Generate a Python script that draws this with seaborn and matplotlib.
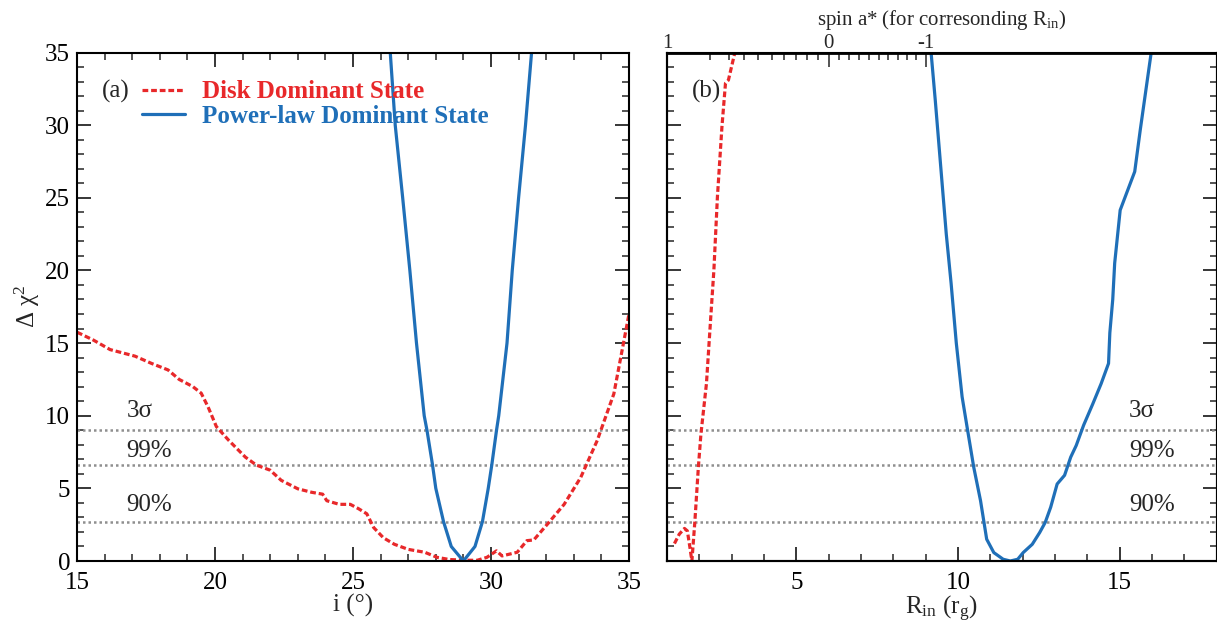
import numpy as np
import matplotlib
matplotlib.use("Agg")
import matplotlib.pyplot as plt
import seaborn as sns

# Delta chi^2 scans
# (a) inclination scan
disk_incl = [15.0, 15.6, 16.2, 17.1, 17.7, 18.3, 18.7, 19.2, 19.5, 19.75, 20.05, 20.5,
             21.1, 21.5, 22.0, 22.4, 23.0, 23.5, 23.9, 24.05, 24.5, 24.9, 25.2, 25.5,
             25.75, 26.1, 26.5, 27.0, 27.6, 28.05, 28.5, 29.1, 29.5, 29.85, 30.2, 30.4,
             30.95, 31.3, 31.55, 32.05, 32.65, 33.25, 33.85, 34.45, 35.0]
disk_incl_chi = [15.75, 15.2, 14.55, 14.1, 13.6, 13.15, 12.5, 12.0, 11.55, 10.6, 9.25, 8.3,
                 7.15, 6.6, 6.25, 5.55, 4.97, 4.73, 4.6, 4.15, 3.9, 3.9, 3.6, 3.25,
                 2.3, 1.6, 1.15, 0.8, 0.6, 0.25, 0.1, 0.05, 0.05, 0.25, 0.7, 0.35,
                 0.6, 1.4, 1.45, 2.55, 3.9, 5.75, 8.3, 11.5, 17.0]
pl_incl = [26.35, 26.53, 26.8, 27.06, 27.3, 27.58, 27.68, 27.88, 28.0, 28.28, 28.56, 29.0,
           29.42, 29.69, 29.9, 30.03, 30.2, 30.28, 30.58, 30.77, 31.0, 31.25, 31.47]
pl_incl_chi = [35, 30, 25, 20, 15, 10, 9, 6.63, 5, 2.71, 1.0, 0,
               1.0, 2.71, 5, 6.63, 9, 10, 15, 20, 25, 30, 35]

# (b) inner radius scan
disk_rin = [1.23, 1.38, 1.54, 1.63, 1.71, 1.77, 1.86, 1.97, 2.05, 2.22, 2.36, 2.45,
            2.56, 2.70, 2.81, 2.90, 3.10]
disk_rin_chi = [1.2, 1.85, 2.24, 2.07, 0.92, 0.0, 2.65, 6.45, 8.75, 12.2, 17.0, 20.0,
                25.07, 29.9, 32.9, 33.1, 35.0]
pl_rin = [9.17, 9.3, 9.47, 9.64, 9.79, 9.95, 10.13, 10.3, 10.49, 10.7, 10.89, 11.11,
          11.4, 11.62, 11.85, 12.02, 12.3, 12.53, 12.7, 12.87, 13.07, 13.3, 13.49, 13.66,
          13.89, 14.17, 14.43, 14.66, 14.7, 14.79, 14.85, 15.02, 15.47, 15.64, 15.98]
pl_rin_chi = [35, 31.7, 27.1, 22.5, 19.1, 15.0, 11.3, 9.0, 6.45, 4.15, 1.5, 0.58,
              0.12, 0.0, 0.12, 0.58, 1.15, 1.96, 2.65, 3.7, 5.3, 5.9, 7.15, 7.95,
              9.35, 10.8, 12.2, 13.6, 15.7, 18.0, 20.5, 24.15, 26.8, 29.65, 35]

# confidence levels
levels = [9.0, 6.63, 2.71]
level_labels = ["3σ", "99%", "90%"]

# spin values for the top axis of panel (b)
spin_major = [1.0, 0.0, -1.0]
spin_major_labels = ["1", "0", "-1"]
spin_minor = [0.9, 0.8, 0.7, 0.6, 0.5, 0.4, 0.3, 0.2, 0.1,
              -0.1, -0.2, -0.3, -0.4, -0.5, -0.6, -0.7, -0.8, -0.9]

RED = "#e8282a"
BLUE = "#1f6fb8"
GREY = "#8f8f8f"


def r_isco(a):
    # Bardeen et al. 1972 ISCO radius (units of r_g)
    a = np.asarray(a, dtype=float)
    z1 = 1 + np.cbrt(1 - a**2) * (np.cbrt(1 + a) + np.cbrt(1 - a))
    z2 = np.sqrt(3 * a**2 + z1**2)
    return 3 + z2 - np.sign(a) * np.sqrt((3 - z1) * (3 + z1 + 2 * z2))


sns.set_theme(style="ticks")
plt.rcParams["font.family"] = ["Liberation Serif", "DejaVu Serif"]
plt.rcParams["mathtext.fontset"] = "custom"
plt.rcParams["mathtext.rm"] = "Liberation Serif"
plt.rcParams["mathtext.it"] = "Liberation Serif:italic"
plt.rcParams["axes.linewidth"] = 1.5
plt.rcParams["axes.edgecolor"] = "black"
FS = 18

fig = plt.figure(figsize=(12.17, 6.24), dpi=100)
ax1 = fig.add_axes([77 / 1217, 1 - 561 / 624, (629 - 77) / 1217, (561 - 52.5) / 624])
ax2 = fig.add_axes([667 / 1217, 1 - 561 / 624, (1216.5 - 667) / 1217, (561 - 52.5) / 624])

dash = (0, (1.8, 0.9))
lw = 2.3

# panel (a)
sns.lineplot(x=disk_incl, y=disk_incl_chi, ax=ax1, color=RED, lw=lw, linestyle=dash,
             sort=False, estimator=None, label="Disk Dominant State")
sns.lineplot(x=pl_incl, y=pl_incl_chi, ax=ax1, color=BLUE, lw=lw,
             sort=False, estimator=None, label="Power-law Dominant State")

# panel (b)
sns.lineplot(x=disk_rin, y=disk_rin_chi, ax=ax2, color=RED, lw=lw, linestyle=dash,
             sort=False, estimator=None, legend=False)
sns.lineplot(x=pl_rin, y=pl_rin_chi, ax=ax2, color=BLUE, lw=lw,
             sort=False, estimator=None, legend=False)

for ax in (ax1, ax2):
    for lev in levels:
        ax.axhline(lev, color=GREY, lw=1.8, linestyle=(0, (1, 1.2)), zorder=1)
    ax.set_ylim(0, 35)
    ax.yaxis.set_major_locator(matplotlib.ticker.MultipleLocator(5))
    ax.yaxis.set_minor_locator(matplotlib.ticker.MultipleLocator(1))
    ax.xaxis.set_major_locator(matplotlib.ticker.MultipleLocator(5))
    ax.xaxis.set_minor_locator(matplotlib.ticker.MultipleLocator(1))
    ax.tick_params(which="major", direction="in", length=10, width=1.1, labelsize=FS,
                   colors="black", pad=8, left=True, right=True)
    ax.tick_params(which="minor", direction="in", length=5, width=1.1,
                   left=True, right=True)

ax1.set_xlim(15, 35)
ax1.tick_params(which="both", top=True)
ax1.tick_params(axis="y", pad=5)
ax1.set_xlabel("i (°)", fontsize=FS, labelpad=0)
ax1.set_ylabel("Δ χ$^{2}$", fontsize=FS, labelpad=2)

ax2.set_xlim(1, 18)
ax2.tick_params(which="both", top=False, labelleft=False)
ax2.set_xlabel("R$_{\\rm in}$ (r$_{\\rm g}$)", fontsize=FS, labelpad=0)

# confidence level labels
for lev, lab, dy in zip(levels, level_labels, [0.6, 0.15, 0.4]):
    ax1.text(16.8, lev + dy, lab, fontsize=FS, va="bottom", ha="left")
    ax2.text(15.3, lev + dy, lab, fontsize=FS, va="bottom", ha="left")

ax1.text(16.4, 32.3, "(a)", fontsize=FS, ha="center", va="center")
ax2.text(2.21, 32.3, "(b)", fontsize=FS, ha="center", va="center")

leg = ax1.legend(loc="upper left", bbox_to_anchor=(0.118, 0.945), frameon=False,
                 handlelength=1.7, handletextpad=0.7, labelspacing=0.05,
                 borderpad=0, borderaxespad=0, labelcolor="linecolor",
                 prop={"family": "Liberation Serif", "weight": "bold", "size": FS})

# top axis: spin a* mapped to ISCO radius
top = ax2.twiny()
top.set_xlim(ax2.get_xlim())
top.set_xticks(r_isco(spin_major))
top.set_xticklabels(spin_major_labels)
top.set_xticks(r_isco(spin_minor), minor=True)
top.tick_params(which="major", direction="in", length=10, width=1.1, labelsize=15, pad=0)
top.tick_params(which="minor", direction="in", length=5, width=1.1)
top.set_xlabel("spin a* (for corresonding R$_{\\rm in}$)", fontsize=15, labelpad=6)
top.spines["top"].set_linewidth(2.0)

fig.savefig("out.png", dpi=100)
